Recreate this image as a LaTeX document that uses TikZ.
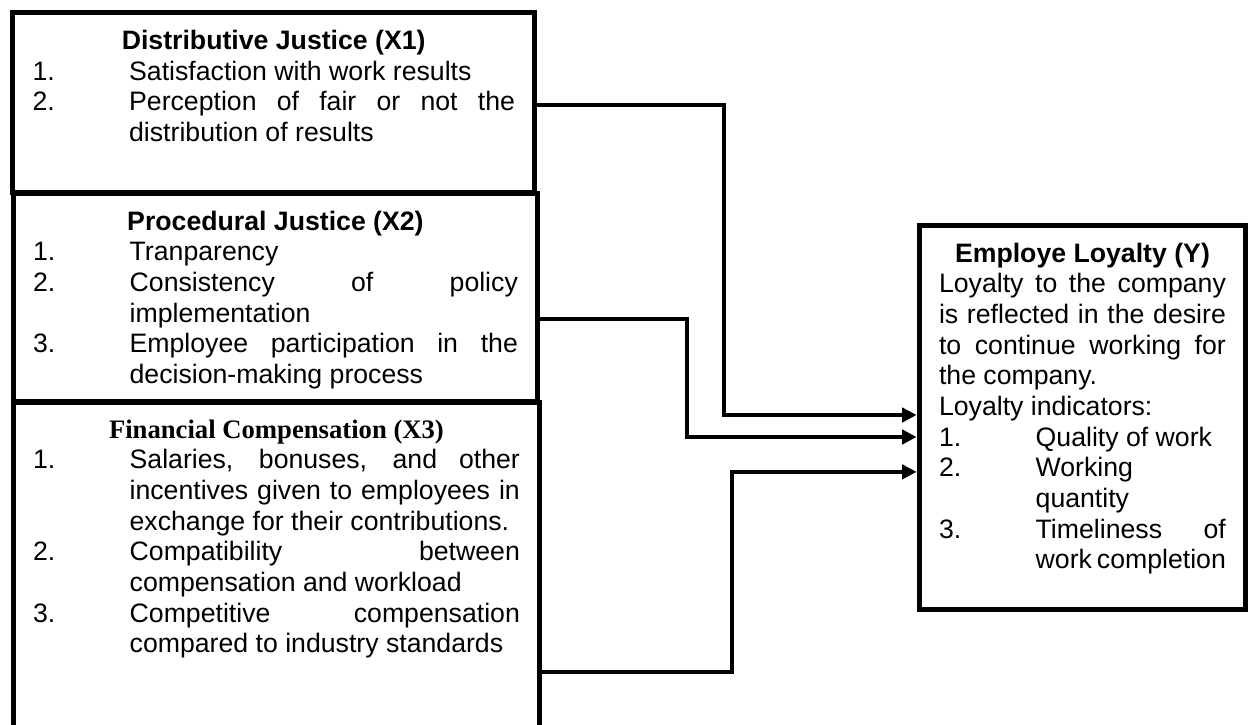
\documentclass[tikz,border=0pt]{standalone}
\usepackage{fontspec}
\setmainfont{Liberation Sans}
\newfontfamily\timesfont{Liberation Serif}
\usetikzlibrary{arrows.meta}
\tolerance=10000
\hyphenpenalty=10000
\exhyphenpenalty=10000
% numbered indicator with hanging indent
\newcommand{\indic}[2]{\par\hangindent=43.5pt\hangafter=1\noindent\makebox[43.5pt][l]{#1}#2}

\begin{document}
\begin{tikzpicture}[x=0.45pt, y=-0.45pt,
    box/.style={rectangle, draw, line width=2.25pt, anchor=north west, inner xsep=9pt, inner ysep=8pt, font=\fontsize{12}{13.8}\selectfont},
    link/.style={line width=1.5pt, -{Triangle[length=6.5pt,width=6.5pt]}}]

    % Fix the frame of the page
    \useasboundingbox (0,0) rectangle (1251,724);

    % Draw the independent variables
    \node[box] (dj) at (10,10) {\parbox[t][65.2pt][t]{217.1pt}{%
        {\centering\bfseries Distributive Justice (X1)\par}
        \indic{1.}{Satisfaction with work results}
        \indic{2.}{Perception of fair or not the distribution of results}}};
    \node[box] (pj) at (10.5,190.5) {\parbox[t][78pt][t]{218.2pt}{%
        {\centering\bfseries Procedural Justice (X2)\par}
        \indic{1.}{Tranparency}
        \indic{2.}{Consistency of policy implementation}
        \indic{3.}{Employee participation in the decision-making process}}};
    \node[box] (fc) at (10.5,399.5) {\parbox[t][133.8pt][t]{219.1pt}{%
        {\centering\timesfont\bfseries Financial Compensation (X3)\par}
        \indic{1.}{Salaries, bonuses, and other incentives given to employees in exchange for their contributions.}
        \indic{2.}{Compatibility between compensation and workload}
        \indic{3.}{Competitive compensation compared to industry standards}}};

    % Draw the dependent variable
    \node[box] (el) at (916.5,222.5) {\parbox[t][157.2pt][t]{129.1pt}{%
        {\centering\bfseries Employe Loyalty (Y)\par}
        Loyalty to the company is reflected in the desire to continue working for the company.\par
        Loyalty indicators:
        \indic{1.}{Quality of work}
        \indic{2.}{Working quantity}
        \indic{3.}{Timeliness of work completion}}};

    % Draw the elbow arrows from each box into Y
    \foreach \src/\dyout/\run/\dyin in {dj/-1pt/186.5/1.1pt, pj/-9.7pt/146.5/-8.8pt, fc/-46.6pt/189.5/-24.5pt} {
        \draw[link] ([yshift=\dyout]\src.east) -- ++(\run,0) |- ([yshift=\dyin]el.west);
    }
\end{tikzpicture}
\end{document}
